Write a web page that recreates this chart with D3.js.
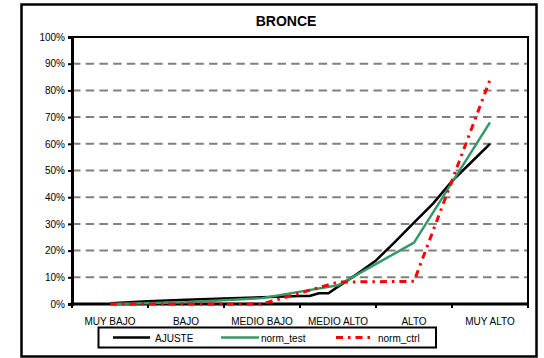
<!DOCTYPE html>
<html>
<head>
<meta charset="utf-8">
<script src="https://cdn.jsdelivr.net/npm/d3@7"></script>
<style>
  body { margin: 0; background: #fff; }
  text { font-family: "Liberation Sans", Arial, sans-serif; fill: #000; }
</style>
</head>
<body>
<svg id="chart" width="544" height="358"></svg>
<script>
// Categories on the x axis
const categories = ["MUY BAJO", "BAJO", "MEDIO BAJO", "MEDIO ALTO", "ALTO", "MUY ALTO"];
// Y axis tick values (percent)
const yTicks = [0, 10, 20, 30, 40, 50, 60, 70, 80, 90, 100];

// AJUSTE: fitted curve, positions given in category units (0 = MUY BAJO, 5 = MUY ALTO)
const ajustePos    = [0, 0.5, 1, 1.5, 2, 2.5, 2.625, 2.75, 2.875, 3, 3.25, 3.5, 3.75, 4, 4.25, 4.5, 4.75, 5];
const ajusteValues = [0.3, 1.0, 1.6, 2.1, 2.5, 3.0, 3.0, 4.0, 4.0, 6.5, 11.2, 16.3, 23.3, 30.5, 37.6, 46.0, 53.0, 60.0];

// norm_test and norm_ctrl: one value per category (percent)
const normTestValues = [0, 0.7, 2.2, 7.0, 23.0, 68.0];
const normCtrlValues = [0, 0, 0, 8.2, 8.5, 84.0];

const seriesNames = ["AJUSTE", "norm_test", "norm_ctrl"];
const seriesColors = ["#000000", "#339966", "#ff0000"];

const W = 544, H = 358;
const plot = { left: 72, right: 528, top: 37, bottom: 304 };

const svg = d3.select("#chart");

// Outer chart frame
svg.append("rect")
  .attr("x", 21.5).attr("y", 4.5)
  .attr("width", 515).attr("height", 352)
  .attr("fill", "#fff").attr("stroke", "#000").attr("stroke-width", 2.5);

// Title
svg.append("text")
  .attr("x", 286).attr("y", 26)
  .attr("text-anchor", "middle")
  .style("font-size", "14px").style("font-weight", "bold")
  .text("BRONCE");

// Scales
const xBand = d3.scaleBand().domain(categories).range([plot.left, plot.right]);
const xPos = d3.scaleLinear()
  .domain([0, categories.length - 1])
  .range([xBand(categories[0]) + xBand.bandwidth() / 2,
          xBand(categories[categories.length - 1]) + xBand.bandwidth() / 2]);
const y = d3.scaleLinear().domain([0, 100]).range([plot.bottom, plot.top]);

// Dashed gridlines
svg.append("g")
  .selectAll("line")
  .data(yTicks.filter(t => t > 0 && t < 100))
  .join("line")
  .attr("x1", plot.left).attr("x2", plot.right)
  .attr("y1", d => y(d)).attr("y2", d => y(d))
  .attr("stroke", "#808080").attr("stroke-width", 2)
  .attr("stroke-dasharray", "8.5,5.2");

// Plot area border (top and right)
svg.append("path")
  .attr("d", `M${plot.left},${plot.top}H${plot.right}V${plot.bottom}`)
  .attr("fill", "none").attr("stroke", "#000").attr("stroke-width", 2);

// Y axis
const yAxis = svg.append("g")
  .attr("transform", `translate(${plot.left},0)`)
  .call(d3.axisLeft(y).tickValues(yTicks).tickSize(4).tickPadding(3).tickFormat(d => d + "%"));
yAxis.select(".domain").attr("stroke", "#000").attr("stroke-width", 3);
yAxis.selectAll(".tick line").attr("stroke", "#000").attr("stroke-width", 2);
yAxis.selectAll(".tick text")
  .style("font-size", "10px").style("font-family", "'Liberation Sans', Arial, sans-serif")
  .attr("fill", "#000");

// X axis: labels centred in each band, ticks on band boundaries
const xAxis = svg.append("g")
  .attr("transform", `translate(0,${plot.bottom})`)
  .call(d3.axisBottom(xBand).tickSize(0).tickPadding(14));
xAxis.select(".domain").remove();
xAxis.selectAll(".tick text")
  .style("font-size", "10px").style("font-family", "'Liberation Sans', Arial, sans-serif")
  .attr("fill", "#000");

const boundaries = categories.map(c => xBand(c) + xBand.bandwidth()).concat([plot.left]);
svg.append("g")
  .selectAll("line")
  .data(boundaries)
  .join("line")
  .attr("x1", d => d).attr("x2", d => d)
  .attr("y1", plot.bottom).attr("y2", plot.bottom + 4)
  .attr("stroke", "#000").attr("stroke-width", 2);

svg.append("line")
  .attr("x1", plot.left - 1.5).attr("x2", plot.right + 1)
  .attr("y1", plot.bottom).attr("y2", plot.bottom)
  .attr("stroke", "#000").attr("stroke-width", 3);

// Series lines
const line = d3.line().x(d => xPos(d[0])).y(d => y(d[1]));
const series = [
  { name: seriesNames[0], color: seriesColors[0], dash: null, width: 2.5,
    points: ajustePos.map((p, i) => [p, ajusteValues[i]]) },
  { name: seriesNames[1], color: seriesColors[1], dash: null, width: 2.5,
    points: normTestValues.map((v, i) => [i, v]) },
  { name: seriesNames[2], color: seriesColors[2], dash: "7,5,2.5,5", width: 3,
    points: normCtrlValues.map((v, i) => [i, v]) }
];

svg.append("g")
  .selectAll("path")
  .data(series)
  .join("path")
  .attr("d", d => line(d.points))
  .attr("fill", "none")
  .attr("stroke", d => d.color)
  .attr("stroke-width", d => d.width)
  .attr("stroke-dasharray", d => d.dash)
  .attr("stroke-linejoin", "round");

// Legend
const legend = svg.append("g");
legend.append("rect")
  .attr("x", 98.5).attr("y", 327.5)
  .attr("width", 337.5).attr("height", 20)
  .attr("fill", "#fff").attr("stroke", "#000").attr("stroke-width", 2);

const legendItems = [
  { x1: 113, x2: 150, tx: 155 },
  { x1: 221, x2: 259, tx: 261 },
  { x1: 336, x2: 374, tx: 378 }
];
legendItems.forEach((it, i) => {
  legend.append("line")
    .attr("x1", it.x1).attr("x2", it.x2)
    .attr("y1", 337.5).attr("y2", 337.5)
    .attr("stroke", series[i].color)
    .attr("stroke-width", series[i].width)
    .attr("stroke-dasharray", series[i].dash);
  legend.append("text")
    .attr("x", it.tx).attr("y", 341.5)
    .style("font-size", "10px")
    .text(series[i].name);
});
</script>
</body>
</html>
